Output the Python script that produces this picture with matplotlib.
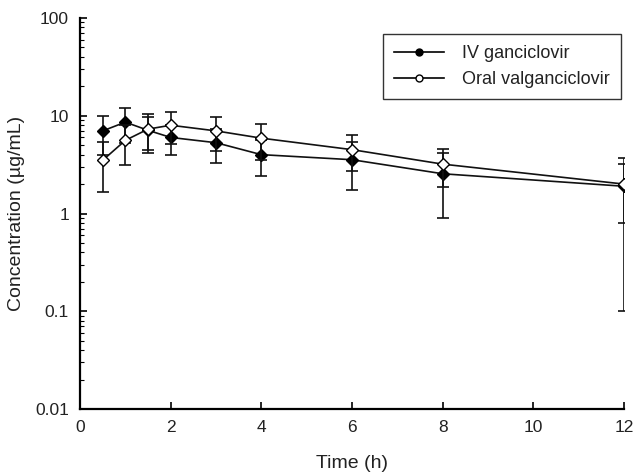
import matplotlib
matplotlib.use("Agg")
import matplotlib.pyplot as plt
from matplotlib.lines import Line2D
from matplotlib.ticker import LogLocator, FixedLocator, NullFormatter

plt.rcParams['font.family'] = ['Liberation Sans', 'DejaVu Sans']

time_h = [0.5, 1, 1.5, 2, 3, 4, 6, 8, 12]
iv_mean = [7.0, 8.6, 7.1, 6.0, 5.3, 4.0, 3.55, 2.55, 1.9]
iv_sd = [3.0, 3.3, 2.6, 2.0, 2.0, 1.6, 1.8, 1.65, 1.8]
oral_mean = [3.5, 5.6, 7.3, 8.0, 7.0, 5.9, 4.5, 3.2, 2.0]
oral_sd = [1.85, 2.5, 3.1, 2.8, 2.6, 2.4, 1.8, 1.35, 1.2]

x_ticks = [0, 2, 4, 6, 8, 10, 12]
y_ticks = [0.01, 0.1, 1, 10, 100]
y_ticklabels = ['0.01', '0.1', '1', '10', '100']
series_labels = ['IV ganciclovir', 'Oral valganciclovir']

fig = plt.figure(figsize=(6.34, 4.75), dpi=100)
ax = fig.add_axes([80/634, 1-409/475, (624-80)/634, (409-18)/475])

ax.errorbar(time_h, iv_mean, yerr=iv_sd, color='#111111', lw=1.2, elinewidth=1.2,
            capsize=4.5, capthick=1.2, marker='D', ms=6, mfc='black', mec='black',
            zorder=2)
ax.errorbar(time_h, oral_mean, yerr=oral_sd, color='#111111', lw=1.2, elinewidth=1.2,
            capsize=4.5, capthick=1.2, marker='D', ms=6, mfc='white', mec='black',
            zorder=3)

ax.set_yscale('log')
ax.set_xlim(0, 12)
ax.set_ylim(0.01, 100)
ax.yaxis.set_major_locator(FixedLocator(y_ticks))
ax.set_yticklabels(y_ticklabels)
ax.yaxis.set_minor_locator(LogLocator(base=10, subs=range(2, 10), numticks=20))
ax.yaxis.set_minor_formatter(NullFormatter())
ax.set_xticks(x_ticks)
ax.set_xticklabels([str(v) for v in x_ticks])

for s in ['top', 'right']:
    ax.spines[s].set_visible(False)
for s in ['left', 'bottom']:
    ax.spines[s].set_linewidth(1.6)

ax.tick_params(axis='both', which='major', direction='in', length=5, width=1.2,
               labelsize=12.5, pad=8, labelcolor='#222222')
ax.tick_params(axis='y', which='minor', direction='in', length=3, width=0.8)

ax.set_xlabel('Time (h)', fontsize=14, labelpad=14, color='#222222')
ax.set_ylabel('Concentration (µg/mL)', fontsize=14, labelpad=7, color='#222222')

handles = [
    Line2D([0], [0], color='black', lw=1.2, marker='o', ms=5, mfc='black', mec='black'),
    Line2D([0], [0], color='black', lw=1.2, marker='o', ms=5, mfc='white', mec='black'),
]
leg = ax.legend(handles, series_labels, loc='upper right',
                bbox_to_anchor=(621/634, 1-34/475),
                bbox_transform=fig.transFigure, frameon=True, fancybox=False,
                fontsize=13, handlelength=2.8, borderpad=0.6,
                labelspacing=0.5, handletextpad=1.0, borderaxespad=0)
leg.get_frame().set_edgecolor('black')
leg.get_frame().set_linewidth(1.0)
for t in leg.get_texts():
    t.set_color('#222222')

fig.savefig('out.png', dpi=100, facecolor='white')
